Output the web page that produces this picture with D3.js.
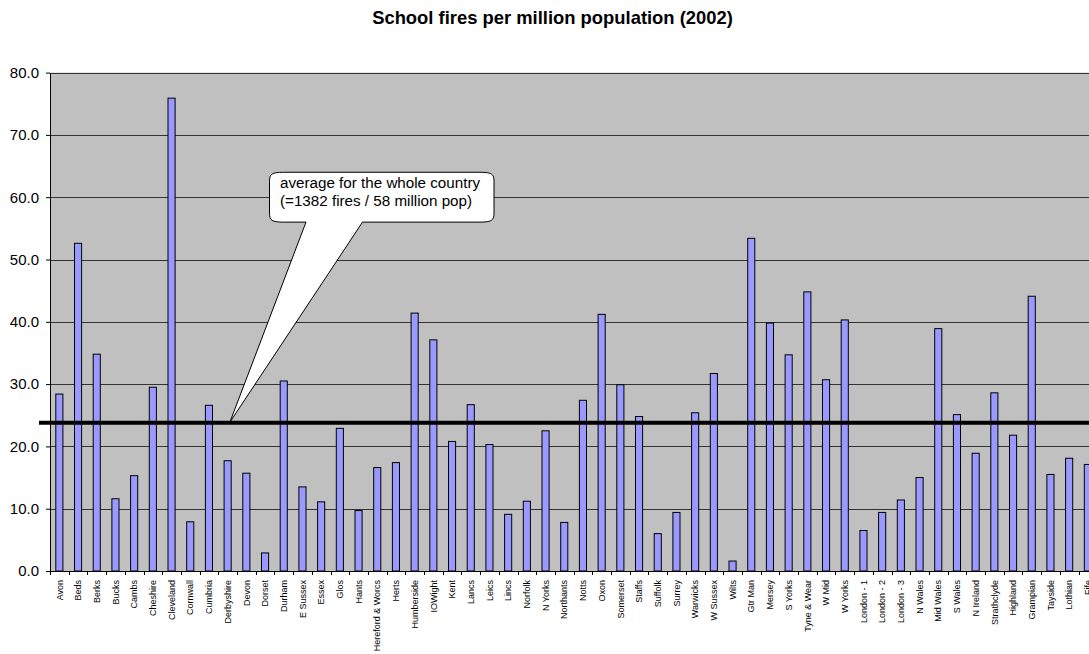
<!DOCTYPE html>
<html>
<head>
<meta charset="utf-8">
<script src="https://cdn.jsdelivr.net/npm/d3@7"></script>
<style>
    body { margin: 0; background: #fff; }
    svg { display: block; font-family: 'Liberation Sans', Arial, sans-serif; }
</style>
</head>
<body>
<div id="chart"></div>
<script>
const regions = ['Avon', 'Beds', 'Berks', 'Bucks', 'Cambs', 'Cheshire', 'Cleveland', 'Cornwall',
    'Cumbria', 'Derbyshire', 'Devon', 'Dorset', 'Durham', 'E Sussex', 'Essex', 'Glos', 'Hants',
    'Hereford & Worcs', 'Herts', 'Humberside', 'IOWight', 'Kent', 'Lancs', 'Leics', 'Lincs',
    'Norfolk', 'N Yorks', 'Northants', 'Notts', 'Oxon', 'Somerset', 'Staffs', 'Suffolk', 'Surrey',
    'Warwicks', 'W Sussex', 'Wilts', 'Gtr Man', 'Mersey', 'S Yorks', 'Tyne & Wear', 'W Mid',
    'W Yorks', 'London - 1', 'London - 2', 'London - 3', 'N Wales', 'Mid Wales', 'S Wales',
    'N Ireland', 'Strathclyde', 'Highland', 'Grampian', 'Tayside', 'Lothian', 'Fife'];

const firesPerMillion = [28.4, 52.6, 34.8, 11.6, 15.3, 29.5, 75.9, 7.9,
    26.6, 17.7, 15.7, 2.9, 30.5, 13.5, 11.1, 22.9, 9.7,
    16.6, 17.4, 41.4, 37.1, 20.8, 26.7, 20.3, 9.1,
    11.2, 22.5, 7.8, 27.4, 41.2, 29.9, 24.8, 6.0, 9.4,
    25.4, 31.7, 1.6, 53.4, 39.8, 34.7, 44.8, 30.7,
    40.3, 6.5, 9.4, 11.4, 15.0, 38.9, 25.1,
    18.9, 28.6, 21.8, 44.1, 15.5, 18.1, 17.1];

const yTicks = [0, 10, 20, 30, 40, 50, 60, 70, 80];
const nationalAverage = 23.8;
const calloutLines = ['average for the whole country', '(=1382 fires / 58 million pop)'];
const title = 'School fires per million population (2002)';

const w = 1089;
const h = 654;
const plot = { left: 50, top: 72.6, bottom: 571, step: 18.7 };

const svg = d3.select('#chart')
    .append('svg')
    .attr('width', w)
    .attr('height', h);

// Scales
const xScale = d3.scaleBand()
    .domain(regions)
    .range([plot.left, plot.left + plot.step * regions.length])
    .padding(0);

const yScale = d3.scaleLinear()
    .domain([0, 80])
    .range([plot.bottom, plot.top]);

const plotRight = xScale.range()[1];

// Plot area
svg.append('rect')
    .attr('x', plot.left)
    .attr('y', yScale(80))
    .attr('width', plotRight - plot.left)
    .attr('height', yScale(0) - yScale(80))
    .attr('fill', '#c0c0c0');

// Gridlines
svg.append('g')
    .selectAll('line')
    .data(yTicks.filter(t => t > 0))
    .enter()
    .append('line')
    .attr('x1', plot.left)
    .attr('x2', plotRight)
    .attr('y1', d => Math.round(yScale(d)) + 0.5)
    .attr('y2', d => Math.round(yScale(d)) + 0.5)
    .attr('stroke', '#333')
    .attr('stroke-width', 1);

// Bars
const barWidth = plot.step * 0.38;
svg.append('g')
    .selectAll('rect')
    .data(regions.map((r, i) => ({ region: r, value: firesPerMillion[i] })))
    .enter()
    .append('rect')
    .attr('x', d => xScale(d.region) + xScale.bandwidth() / 2 - barWidth / 2)
    .attr('y', d => yScale(d.value))
    .attr('width', barWidth)
    .attr('height', d => yScale(0) - yScale(d.value))
    .attr('fill', '#9999ff')
    .attr('stroke', '#000')
    .attr('stroke-width', 1);

// Axes
const yAxis = d3.axisLeft(yScale)
    .tickValues(yTicks)
    .tickFormat(d3.format('.1f'))
    .tickSizeInner(4)
    .tickSizeOuter(0)
    .tickPadding(7);

const yAxisG = svg.append('g')
    .attr('transform', `translate(${plot.left}, 0)`)
    .call(yAxis);
yAxisG.selectAll('text')
    .attr('font-size', 15)
    .attr('font-family', "'Liberation Sans', Arial, sans-serif")
    .attr('fill', '#000');
yAxisG.selectAll('line, path').attr('stroke', '#000');

const xAxis = d3.axisBottom(xScale)
    .tickSize(0)
    .tickPadding(0);

const xAxisG = svg.append('g')
    .attr('transform', `translate(0, ${plot.bottom})`)
    .call(xAxis);
xAxisG.select('path').attr('stroke', '#000');
xAxisG.selectAll('text')
    .attr('font-size', 9)
    .attr('font-family', "'Liberation Sans', Arial, sans-serif")
    .attr('fill', '#000')
    .attr('text-anchor', 'end')
    .attr('transform', 'translate(0, 9) rotate(-90)')
    .attr('x', 0)
    .attr('y', 0)
    .attr('dy', '0.35em');

// category separator ticks
svg.append('g')
    .selectAll('line')
    .data(regions)
    .enter()
    .append('line')
    .attr('x1', d => Math.round(xScale(d)) + 0.5)
    .attr('x2', d => Math.round(xScale(d)) + 0.5)
    .attr('y1', plot.bottom)
    .attr('y2', plot.bottom + 4)
    .attr('stroke', '#000');

// National average line
svg.append('line')
    .attr('x1', 39)
    .attr('x2', w)
    .attr('y1', yScale(nationalAverage))
    .attr('y2', yScale(nationalAverage))
    .attr('stroke', '#000')
    .attr('stroke-width', 4);

// Callout
const box = { x0: 269.5, x1: 494, y0: yScale(64.0), y1: yScale(56.0), rx: 14, ry: 9 };
const tip = { x: xScale('Derbyshire') + xScale.bandwidth() * 0.62, y: yScale(nationalAverage) - 0.5 };
const tailA = 306, tailB = 362.5;

const p = d3.path();
p.moveTo(box.x0 + box.rx, box.y0);
p.lineTo(box.x1 - box.rx, box.y0);
p.bezierCurveTo(box.x1 - 2, box.y0, box.x1, box.y0 + 2, box.x1, box.y0 + box.ry);
p.lineTo(box.x1, box.y1 - box.ry);
p.bezierCurveTo(box.x1, box.y1 - 2, box.x1 - 2, box.y1, box.x1 - box.rx, box.y1);
p.lineTo(tailB, box.y1);
p.lineTo(tip.x, tip.y);
p.lineTo(tailA, box.y1);
p.lineTo(box.x0 + box.rx, box.y1);
p.bezierCurveTo(box.x0 + 2, box.y1, box.x0, box.y1 - 2, box.x0, box.y1 - box.ry);
p.lineTo(box.x0, box.y0 + box.ry);
p.bezierCurveTo(box.x0, box.y0 + 2, box.x0 + 2, box.y0, box.x0 + box.rx, box.y0);
p.closePath();

svg.append('path')
    .attr('d', p.toString())
    .attr('fill', '#fff')
    .attr('stroke', '#000')
    .attr('stroke-width', 1);

svg.append('g')
    .selectAll('text')
    .data(calloutLines)
    .enter()
    .append('text')
    .attr('x', 280)
    .attr('y', (d, i) => 188.3 + i * 17.8)
    .attr('font-size', 15.2)
    .attr('fill', '#000')
    .text(d => d);

// Title
svg.append('text')
    .attr('x', 552.5)
    .attr('y', 24)
    .attr('text-anchor', 'middle')
    .attr('font-size', 18.4)
    .attr('font-weight', 'bold')
    .attr('fill', '#000')
    .text(title);
</script>
</body>
</html>
